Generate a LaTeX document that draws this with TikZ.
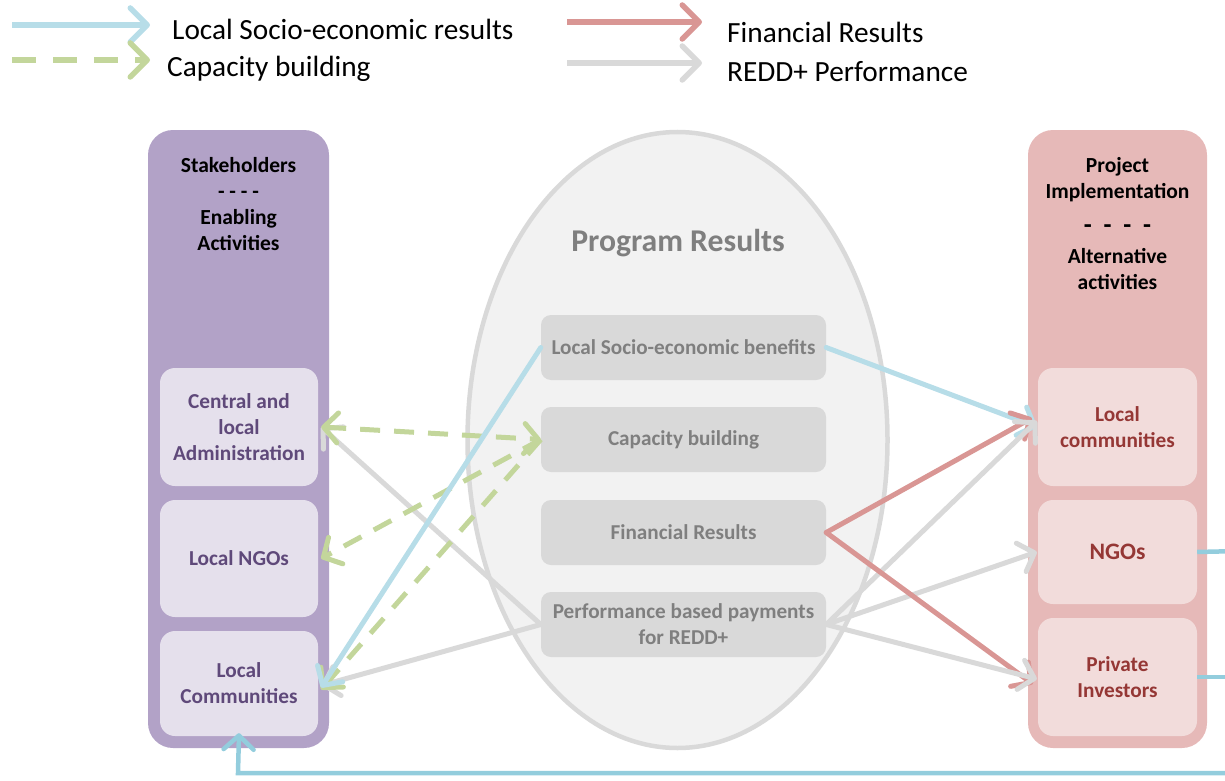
\documentclass[tikz,border=0pt]{standalone}
\usepackage{fontspec}
\setmainfont{Carlito}
\usetikzlibrary{arrows.meta,shapes.geometric}
\definecolor{cblue}{HTML}{B7DDE8}
\definecolor{cfeed}{HTML}{93CDDD}
\definecolor{cgreen}{HTML}{C3D69B}
\definecolor{cred}{HTML}{D99694}
\definecolor{cgray}{HTML}{D9D9D9}
\definecolor{cpurple}{HTML}{B2A2C7}
\definecolor{clpurple}{HTML}{E5E0EC}
\definecolor{tpurple}{HTML}{5F497A}
\definecolor{cpink}{HTML}{E6B9B8}
\definecolor{clpink}{HTML}{F2DCDB}
\definecolor{tred}{HTML}{953735}
\definecolor{cell}{HTML}{F2F2F2}
\definecolor{tgray}{HTML}{7F7F7F}
\tikzset{
  panel/.style={rounded corners=25pt, inner sep=0pt, minimum width=181pt, minimum height=618pt},
  lbox/.style={fill=clpurple, rounded corners=15pt, minimum width=158pt, text=tpurple, font=\fontsize{21.3}{26}\selectfont\bfseries, align=center, inner sep=0pt},
  rbox/.style={fill=clpink, rounded corners=15pt, minimum width=159pt, text=tred, font=\fontsize{21.3}{26}\selectfont\bfseries, align=center, inner sep=0pt},
  gbox/.style={fill=cgray, rounded corners=10pt, minimum width=285pt, minimum height=65pt, text=tgray, font=\fontsize{21.2}{26}\selectfont\bfseries, align=center, inner sep=0pt},
  hdr/.style={font=\fontsize{21.5}{26}\selectfont\bfseries, align=center, inner sep=0pt},
  legtxt/.style={font=\fontsize{29.3}{30}\selectfont, anchor=base west, inner sep=0pt},
  tip/.style={-{Straight Barb[length=14pt,width=30pt,round]}},
  bline/.style={draw=cblue, line width=5pt, line cap=round, tip},
  gline/.style={draw=cgray, line width=5pt, line cap=round, tip},
  rline/.style={draw=cred, line width=5pt, line cap=round, tip},
  grline/.style={draw=cgreen, line width=5pt, dash pattern=on 20pt off 14pt, tip},
  legarrow/.style={line width=5.5pt, -{Straight Barb[length=17pt,width=34pt,round]}},
}
\begin{document}
\begin{tikzpicture}[x=1pt,y=-1pt]
\useasboundingbox (0,0) rectangle (1225,781);
\clip (0,0) rectangle (1225,781);
% legend
\coordinate (l1a) at (12,25); \coordinate (l1b) at (150,25);
\coordinate (l2a) at (12,60); \coordinate (l2b) at (150,60);
\coordinate (l3a) at (567,22); \coordinate (l3b) at (702,22);
\coordinate (l4a) at (567,63); \coordinate (l4b) at (702,63);
\draw[legarrow, draw=cblue] (l1a) -- (l1b);
\draw[legarrow, draw=cgreen, dash pattern=on 24pt off 17pt] (l2a) -- (l2b);
\draw[legarrow, draw=cred] (l3a) -- (l3b);
\draw[legarrow, draw=cgray] (l4a) -- (l4b);
\node[legtxt] (t1) at (172,40) {Local Socio-economic results};
\node[legtxt] (t2) at (167,77) {Capacity building};
\node[legtxt] (t3) at (727,43) {Financial Results};
\node[legtxt] (t4) at (727,82) {REDD+ Performance};
% panels
\node[panel, fill=cpurple] (lpanel) at (238.5,439) {};
\node[panel, fill=cpink, minimum width=179pt] (rpanel) at (1117.5,439) {};
\node[hdr] (lhdr) at (238.5,204) {Stakeholders\\- - - -\\Enabling\\Activities};
\node[hdr] (rhdr) at (1117.5,224) {Project\\Implementation\\[9pt]{\fontsize{26}{26}\selectfont -\ \ -\ \ -\ \ -}\\[4pt]Alternative\\activities};
% ellipse
\node[ellipse, draw=cgray, fill=cell, line width=4.5pt, minimum width=420pt, minimum height=616pt, inner sep=0pt] (prog) at (677.5,440) {};
\node[font=\fontsize{31.7}{34}\selectfont\bfseries, text=tgray] (ptitle) at (678,243) {Program Results};
% left boxes
\node[lbox, minimum height=118pt] (ladm) at (239,427) {Central and\\local\\Administration};
\node[lbox, minimum height=117pt] (lngo) at (239,558.5) {Local NGOs};
\node[lbox, minimum height=105pt] (llc) at (239,683.5) {Local\\Communities};
% right boxes
\node[rbox, minimum height=118pt] (rlc) at (1117.5,427) {Local\\communities};
\node[rbox, minimum height=104pt, font=\fontsize{23.6}{26}\selectfont\bfseries] (rngo) at (1117.5,552) {NGOs};
\node[rbox, minimum height=118pt] (rpi) at (1117.5,677) {Private\\Investors};
% gray boxes
\node[gbox] (lseb) at (683.5,347.5) {Local Socio-economic benefits};
\node[gbox] (cb) at (683.5,439.5) {Capacity building};
\node[gbox] (fr) at (683.5,532.5) {Financial Results};
\node[gbox] (pbp) at (683.5,624.5) {Performance based payments\\for REDD+};
% connectors left
\draw[gline] (pbp.west) -- ([xshift=3pt]ladm.east);
\draw[gline] (pbp.west) -- ([xshift=3pt,yshift=-2pt]llc.east);
\draw[grline] (cb.west) -- ([xshift=3pt]lngo.east);
\draw[grline, {Straight Barb[length=14pt,width=30pt,round]}-{Straight Barb[length=14pt,width=30pt,round]}] ([xshift=3pt]ladm.east) -- (cb.west);
\draw[grline] (cb.west) -- ([xshift=3pt,yshift=-6pt]llc.east);
\draw[bline] (lseb.west) -- ([xshift=3pt,yshift=-4pt]llc.east);
% connectors right
\draw[bline] (lseb.east) -- ([xshift=-1pt]rlc.west);
\draw[rline] (fr.east) -- ([xshift=-6pt,yshift=9pt]rlc.west);
\draw[gline] (pbp.east) -- ([xshift=-1pt,yshift=6pt]rlc.west);
\draw[gline] (pbp.east) -- ([xshift=-1pt]rngo.west);
\draw[rline] (fr.east) -- ([xshift=-5pt,yshift=-7pt]rpi.west);
\draw[gline] (pbp.east) -- ([xshift=-1pt,yshift=-2pt]rpi.west);
% feedback
\coordinate (fb1) at (1240,551);
\coordinate (fb2) at (1240,677);
\coordinate (fb3) at (1240,773);
\coordinate (fb4) at (238,773);
\draw[draw=cfeed, line width=4.5pt] (rngo.east) -- (fb1);
\draw[draw=cfeed, line width=4.5pt] (rpi.east) -- (fb2);
\draw[draw=cfeed, line width=4.5pt, tip] (fb3) -- (fb4) -- ([yshift=3pt]llc.south);
\end{tikzpicture}
\end{document}
